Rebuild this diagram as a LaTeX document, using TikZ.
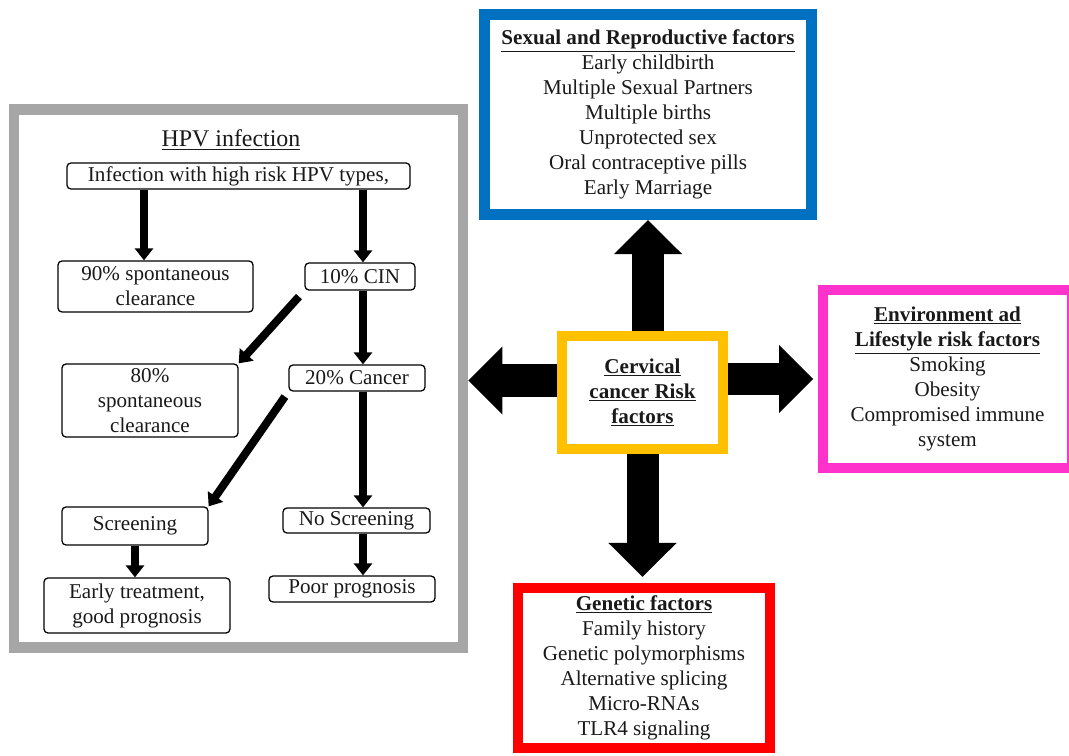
\documentclass[tikz,border=0pt]{standalone}
\usepackage{fontspec}
\setmainfont{Liberation Serif}
\usepackage{tikz}
\usetikzlibrary{arrows.meta,positioning,calc}

\definecolor{hpvgray}{HTML}{A6A6A6}
\definecolor{sexblue}{HTML}{0070C0}
\definecolor{cervyellow}{HTML}{FFC000}
\definecolor{envpink}{HTML}{FF33CC}
\definecolor{genred}{HTML}{FF0000}

\tikzset{
  txt/.style={font=\fontsize{15}{17.8}\selectfont, text=black!90, align=center, inner sep=0pt},
  flowbox/.style={txt, draw, line width=0.9pt, rounded corners=1mm},
  frame/.style={txt, draw=#1, line width=0.25cm},
  flow/.style={line width=0.2cm, -{Triangle[width=4.5mm,length=3mm]}},
  bigarrow/.style={line width=0.8cm, -{Triangle[width=1.65cm,length=0.85cm]}}
}
\newcommand{\hd}[1]{\underline{\textbf{#1}}}

\begin{document}
\begin{tikzpicture}[x=0.025cm, y=-0.025cm]
\useasboundingbox (0,0) rectangle (1069,755);

% HPV panel
\node[frame=hpvgray, line width=0.2625cm, minimum width=11.225cm, minimum height=13.45cm] (hpv) at (238.5,378.5) {};
\node[txt, font=\fontsize{17}{20}\selectfont] (title) at (231,140) {\underline{HPV infection}};

\node[flowbox, minimum width=8.575cm, minimum height=0.65cm] (inf) at (238.5,176) {Infection with high risk HPV types,};
\node[flowbox, minimum width=4.875cm, minimum height=1.275cm] (c90) at (155.5,286.5) {90\% spontaneous\\clearance};
\node[flowbox, minimum width=2.75cm, minimum height=0.675cm] (cin) at (360,276.5) {10\% CIN};
\node[flowbox, minimum width=4.4cm, minimum height=1.825cm] (c80) at (150,400.5) {80\%\\spontaneous\\clearance};
\node[flowbox, minimum width=3.4cm, minimum height=0.65cm] (cancer) at (357,378) {20\% Cancer};
\node[flowbox, minimum width=3.65cm, minimum height=0.95cm] (scr) at (135,526) {Screening};
\node[flowbox, minimum width=3.675cm, minimum height=0.625cm] (noscr) at (356.5,520.5) {No Screening};
\node[flowbox, minimum width=4.65cm, minimum height=1.375cm] (early) at (137,605.5) {Early treatment,\\good prognosis};
\node[flowbox, minimum width=4.15cm, minimum height=0.65cm] (poor) at (352,589) {Poor prognosis};

\coordinate (lf) at (144,0);
\coordinate (sp) at (363,0);

% flow edges
\draw[flow] (inf.south -| lf) -- (c90.north -| lf);
\draw[flow] (inf.south -| sp) -- (cin.north -| sp);
\draw[flow, shorten <=2mm] (cin.south west) -- (c80.north east);
\draw[flow] (cin.south -| sp) -- (cancer.north -| sp);
\draw[flow, shorten <=1.5mm] (cancer.south west) -- (scr.north east);
\draw[flow] (cancer.south -| sp) -- (noscr.north -| sp);
\draw[flow] (scr.south) -- (scr.south |- early.north);
\draw[flow] (noscr.south -| sp) -- (poor.north -| sp);

% risk factors
\node[frame=cervyellow, minimum width=4.025cm, minimum height=2.825cm] (cc) at (642.5,392.5)
  {\hd{Cervical}\\\hd{cancer Risk}\\\hd{factors}};
\node[frame=sexblue, line width=0.275cm, minimum width=8.175cm, minimum height=5cm] (sex) at (648,114.5)
  {\hd{Sexual and Reproductive factors}\\Early childbirth\\Multiple Sexual Partners\\Multiple births\\Unprotected sex\\Oral contraceptive pills\\Early Marriage};
\node[frame=envpink, minimum width=6.225cm, minimum height=4.45cm] (env) at (947.5,379)
  {\hd{Environment ad}\\\hd{Lifestyle risk factors}\\Smoking\\Obesity\\Compromised immune\\system};
\node[frame=genred, minimum width=6.3cm, minimum height=4cm] (gen) at (644,668)
  {\hd{Genetic factors}\\Family history\\Genetic polymorphisms\\Alternative splicing\\Micro-RNAs\\TLR4 signaling};

% big arrows
\coordinate (lt) at ([yshift=3mm]cc.west);
\draw[bigarrow] (sex.south |- cc.north) -- (sex.south);
\draw[bigarrow, shorten >=1.5mm] (cc.south) -- (cc.south |- gen.north);
\draw[bigarrow, shorten >=1.2mm] (cc.east |- env.west) -- (env.west);
\draw[bigarrow] (lt) -- (lt -| hpv.east);
\end{tikzpicture}
\end{document}
